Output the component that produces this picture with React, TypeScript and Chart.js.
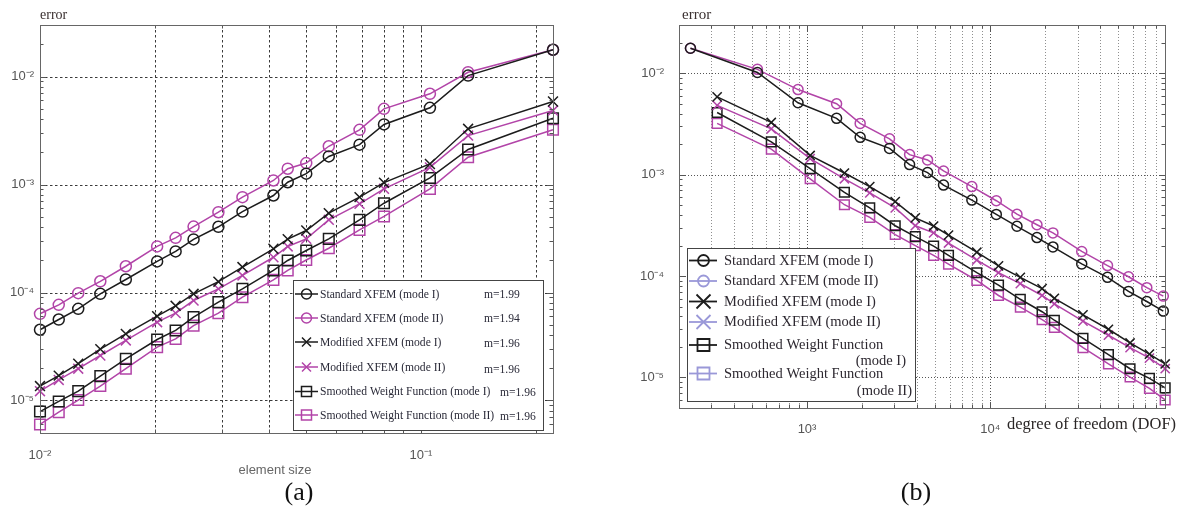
import React, { useEffect, useRef } from 'react';
import { Chart, registerables } from 'chart.js';

Chart.register(...registerables);

// ---------------- data ----------------
const elementSize = [0.01, 0.0112, 0.0126, 0.0144, 0.0168, 0.0203, 0.0227, 0.0253, 0.0294, 0.034, 0.041, 0.0447, 0.05, 0.0573, 0.069, 0.08, 0.1056, 0.133, 0.2222];
const dofStandard = [88100, 71600, 56900, 43700, 31600, 22000, 18000, 14000, 10800, 7940, 5560, 4550, 3630, 2820, 1950, 1450, 893, 536, 231];
const dofModified = [90200, 74000, 58000, 44200, 32100, 22400, 19200, 14600, 11100, 8450, 5920, 4910, 3900, 3030, 2200, 1600, 1040, 638, 323];

const errStdI = [4.52e-5, 5.62e-5, 7.06e-5, 9.72e-5, 1.32e-4, 1.94e-4, 2.40e-4, 3.10e-4, 4.06e-4, 5.62e-4, 7.91e-4, 1.05e-3, 1.26e-3, 1.82e-3, 2.34e-3, 3.60e-3, 5.13e-3, 0.0102, 0.0177];
const errStdII = [6.35e-5, 7.69e-5, 9.86e-5, 1.27e-4, 1.75e-4, 2.67e-4, 3.21e-4, 4.08e-4, 5.54e-4, 7.64e-4, 1.09e-3, 1.40e-3, 1.58e-3, 2.26e-3, 3.21e-3, 5.02e-3, 6.92e-3, 0.01096, 0.0177];
const errModI = [1.36e-5, 1.70e-5, 2.19e-5, 2.99e-5, 4.14e-5, 6.04e-5, 7.53e-5, 9.72e-5, 1.26e-4, 1.72e-4, 2.54e-4, 3.12e-4, 3.75e-4, 5.43e-4, 7.64e-4, 1.04e-3, 1.55e-3, 3.28e-3, 5.87e-3];
const errModII = [1.22e-5, 1.55e-5, 1.97e-5, 2.61e-5, 3.60e-5, 5.31e-5, 6.44e-5, 8.43e-5, 1.08e-4, 1.44e-4, 2.12e-4, 2.67e-4, 3.14e-4, 4.71e-4, 6.62e-4, 9.12e-4, 1.44e-3, 2.84e-3, 4.84e-3];
const errSwfI = [7.9e-6, 9.8e-6, 1.22e-5, 1.68e-5, 2.43e-5, 3.67e-5, 4.45e-5, 5.91e-5, 8.14e-5, 1.08e-4, 1.60e-4, 1.98e-4, 2.45e-4, 3.14e-4, 4.71e-4, 6.71e-4, 1.15e-3, 2.11e-3, 4.11e-3];
const errSwfII = [6.0e-6, 7.8e-6, 1.01e-5, 1.36e-5, 1.97e-5, 3.12e-5, 3.72e-5, 4.94e-5, 6.44e-5, 9.05e-5, 1.31e-4, 1.60e-4, 2.00e-4, 2.57e-4, 3.80e-4, 5.06e-4, 9.12e-4, 1.79e-3, 3.21e-3];

const seriesNames = [
  'Standard XFEM (mode I)',
  'Standard XFEM (mode II)',
  'Modified XFEM (mode I)',
  'Modified XFEM (mode II)',
  'Smoothed Weight Function (mode I)',
  'Smoothed Weight Function (mode II)',
];
const slopes = ['m=1.99', 'm=1.94', 'm=1.96', 'm=1.96', 'm=1.96', 'm=1.96'];
const rightLegendLines = [
  ['Standard XFEM (mode I)'],
  ['Standard XFEM (mode II)'],
  ['Modified XFEM (mode I)'],
  ['Modified XFEM (mode II)'],
  ['Smoothed Weight Function', '(mode I)'],
  ['Smoothed Weight Function', '(mode II)'],
];

const leftXTicks = [0.01, 0.1];
const rightXTicks = [1000, 10000];
const yTicks = [1e-5, 1e-4, 1e-3, 1e-2];

const errorLabel = 'error';
const leftXLabel = 'element size';
const rightXLabel = 'degree of freedom (DOF)';
const captions = ['(a)', '(b)'];

// ---------------- styles ----------------
const BLACK = '#1c1c1c';
const MAGENTA = '#b244a8';
const LAVENDER = '#9a98d8';
const seriesErrors = [errStdI, errStdII, errModI, errModII, errSwfI, errSwfII];
const seriesColors = [BLACK, MAGENTA, BLACK, MAGENTA, BLACK, MAGENTA];
const seriesMarkers = ['circle', 'circle', 'crossRot', 'crossRot', 'rect', 'rect'];

const SUP: Record<string, string> = { '-': '⁻', '0': '⁰', '1': '¹', '2': '²', '3': '³', '4': '⁴', '5': '⁵', '6': '⁶', '7': '⁷', '8': '⁸', '9': '⁹' };
const decadeLabel = (v: number) =>
  '10' + String(Math.round(Math.log10(v))).split('').map((c) => SUP[c] || c).join('');

function logSteps(min: number, max: number) {
  const out: { v: number; major: boolean }[] = [];
  const e0 = Math.floor(Math.log10(min));
  const e1 = Math.ceil(Math.log10(max));
  for (let e = e0; e <= e1; e++) {
    for (let k = 1; k <= 9; k++) {
      const v = k * Math.pow(10, e);
      if (v > min * 1.0005 && v < max * 0.9995) out.push({ v, major: k === 1 });
    }
  }
  return out;
}

function drawMarker(ctx: CanvasRenderingContext2D, style: string, x: number, y: number, r: number, color: string, lw: number) {
  ctx.save();
  ctx.strokeStyle = color;
  ctx.lineWidth = lw;
  ctx.beginPath();
  if (style === 'circle') ctx.arc(x, y, r, 0, Math.PI * 2);
  else if (style === 'rect') ctx.rect(x - r, y - r, 2 * r, 2 * r);
  else {
    ctx.moveTo(x - r, y - r);
    ctx.lineTo(x + r, y + r);
    ctx.moveTo(x + r, y - r);
    ctx.lineTo(x - r, y + r);
  }
  ctx.stroke();
  ctx.restore();
}

type TextItem = { text: string; x: number; y: number; font: string; color: string; align: CanvasTextAlign };

type PanelCfg = {
  id: string;
  gridColor: string;
  gridDash: number[];
  majorGridColor: string;
  frameColor: string;
  tickColor: string;
  drawLegend: (ctx: CanvasRenderingContext2D) => void;
  texts: TextItem[];
};

function overlayPlugin(cfg: PanelCfg) {
  return {
    id: cfg.id,
    beforeDatasetsDraw(chart: any) {
      const { ctx, chartArea: a } = chart;
      const xs = chart.scales.x;
      const ys = chart.scales.y;
      ctx.save();
      ctx.lineWidth = 1;
      ctx.setLineDash(cfg.gridDash);
      for (const s of logSteps(xs.min, xs.max)) {
        const px = Math.round(xs.getPixelForValue(s.v)) + 0.5;
        ctx.strokeStyle = s.major ? cfg.majorGridColor : cfg.gridColor;
        ctx.beginPath();
        ctx.moveTo(px, a.top);
        ctx.lineTo(px, a.bottom);
        ctx.stroke();
      }
      for (const s of logSteps(ys.min, ys.max)) {
        if (!s.major) continue;
        const py = Math.round(ys.getPixelForValue(s.v)) + 0.5;
        ctx.strokeStyle = cfg.majorGridColor;
        ctx.beginPath();
        ctx.moveTo(a.left, py);
        ctx.lineTo(a.right, py);
        ctx.stroke();
      }
      ctx.restore();
    },
    afterDatasetsDraw(chart: any) {
      const { ctx, chartArea: a } = chart;
      const xs = chart.scales.x;
      const ys = chart.scales.y;
      ctx.save();
      ctx.setLineDash([]);
      ctx.lineWidth = 1;
      ctx.strokeStyle = cfg.tickColor;
      for (const s of logSteps(xs.min, xs.max)) {
        const px = Math.round(xs.getPixelForValue(s.v)) + 0.5;
        const L = s.major ? 6 : 3.5;
        ctx.beginPath();
        ctx.moveTo(px, a.bottom);
        ctx.lineTo(px, a.bottom - L);
        ctx.moveTo(px, a.top);
        ctx.lineTo(px, a.top + L);
        ctx.stroke();
      }
      for (const s of logSteps(ys.min, ys.max)) {
        const py = Math.round(ys.getPixelForValue(s.v)) + 0.5;
        const L = s.major ? 6 : 3.5;
        ctx.beginPath();
        ctx.moveTo(a.left, py);
        ctx.lineTo(a.left + L, py);
        ctx.moveTo(a.right, py);
        ctx.lineTo(a.right - L, py);
        ctx.stroke();
      }
      ctx.strokeStyle = cfg.frameColor;
      ctx.strokeRect(Math.round(a.left) + 0.5, Math.round(a.top) + 0.5, Math.round(a.right - a.left), Math.round(a.bottom - a.top));
      cfg.drawLegend(ctx);
      for (const t of cfg.texts) {
        ctx.font = t.font;
        ctx.fillStyle = t.color;
        ctx.textAlign = t.align;
        ctx.textBaseline = 'alphabetic';
        ctx.fillText(t.text, t.x, t.y);
      }
      ctx.restore();
    },
  };
}

function makeDatasets(xFor: (i: number) => number[], radii: Record<string, number>) {
  return seriesNames.map((name, i) => {
    const xv = xFor(i);
    return {
      label: name,
      data: xv.map((x, j) => ({ x, y: seriesErrors[i][j] })),
      borderColor: seriesColors[i],
      backgroundColor: 'rgba(0,0,0,0)',
      pointBackgroundColor: 'rgba(0,0,0,0)',
      pointBorderColor: seriesColors[i],
      pointStyle: seriesMarkers[i],
      pointRadius: radii[seriesMarkers[i]],
      pointBorderWidth: 1.5,
      borderWidth: 1.5,
      fill: false,
      tension: 0,
      clip: false as any,
    };
  });
}

function scaleOptions(min: number, max: number, ticks: number[], fit: (s: any) => void, padding: number, fontSize: number) {
  return {
    type: 'logarithmic' as const,
    min,
    max,
    grid: { display: false },
    border: { display: false },
    afterBuildTicks: (s: any) => {
      s.ticks = ticks.map((v) => ({ value: v }));
    },
    afterFit: fit,
    ticks: {
      autoSkip: false,
      maxRotation: 0,
      padding,
      color: '#555',
      font: { family: '"Liberation Sans", Arial, sans-serif', size: fontSize },
      callback: (v: any) => decadeLabel(Number(v)),
    },
  };
}

function leftConfig(): any {
  const legend = (ctx: CanvasRenderingContext2D) => {
    ctx.save();
    ctx.fillStyle = '#fff';
    ctx.fillRect(293, 280, 250, 150);
    ctx.strokeStyle = '#444';
    ctx.lineWidth = 1;
    ctx.strokeRect(293.5, 280.5, 250, 150);
    const rowsY = [293.5, 317.5, 341.5, 366.5, 391, 414.5];
    const mX = [484, 484, 484, 484, 500, 500];
    const mDy = [0, 0, 1.5, 2, 1, 1];
    const radii: Record<string, number> = { circle: 5, crossRot: 4.5, rect: 5 };
    seriesNames.forEach((name, i) => {
      const y = rowsY[i];
      ctx.strokeStyle = seriesColors[i];
      ctx.lineWidth = 1.5;
      ctx.beginPath();
      ctx.moveTo(295, y + 0.5);
      ctx.lineTo(318, y + 0.5);
      ctx.stroke();
      drawMarker(ctx, seriesMarkers[i], 306.5, y + 0.5, radii[seriesMarkers[i]], seriesColors[i], 1.5);
      ctx.fillStyle = '#2a2a38';
      ctx.font = '11.6px "Liberation Serif", "Times New Roman", serif';
      ctx.textAlign = 'left';
      ctx.textBaseline = 'middle';
      ctx.fillText(name, 320, y + 1);
      ctx.fillText(slopes[i], mX[i], y + 1 + mDy[i]);
    });
    ctx.restore();
  };
  return {
    type: 'line',
    data: { datasets: makeDatasets(() => elementSize, { circle: 5.5, crossRot: 7, rect: 7.5 }) },
    options: {
      animation: false,
      responsive: false,
      maintainAspectRatio: false,
      layout: { padding: { left: 0, right: 41, top: 25, bottom: 0 } },
      plugins: { legend: { display: false }, tooltip: { enabled: false } },
      scales: {
        x: scaleOptions(0.01, 0.2222, leftXTicks, (s: any) => { s.height = 80; }, 7, 13),
        y: scaleOptions(5e-6, 0.03, yTicks, (s: any) => { s.width = 40; }, -2, 13),
      },
    },
    plugins: [
      overlayPlugin({
        id: 'leftOverlay',
        gridColor: '#3a3a3a',
        gridDash: [2.5, 2.5],
        majorGridColor: '#3a3a3a',
        frameColor: '#666',
        tickColor: '#555',
        drawLegend: legend,
        texts: [
          { text: errorLabel, x: 40, y: 18.5, font: '14px "Liberation Serif", serif', color: '#3a3030', align: 'left' },
          { text: leftXLabel, x: 275, y: 474, font: '13px "Liberation Sans", Arial, sans-serif', color: '#666', align: 'center' },
          { text: captions[0], x: 299, y: 500, font: '26px "Liberation Serif", serif', color: '#111', align: 'center' },
        ],
      }),
    ],
  };
}

function rightConfig(): any {
  const legend = (ctx: CanvasRenderingContext2D) => {
    const ox = -594;
    ctx.save();
    ctx.translate(ox, 0);
    ctx.fillStyle = '#fff';
    ctx.fillRect(687, 248, 228, 153);
    ctx.strokeStyle = '#444';
    ctx.lineWidth = 1;
    ctx.strokeRect(687.5, 248.5, 228, 153);
    const rowsY = [260, 280.5, 301, 321.5, 344.5, 373];
    const line2Y = [0, 0, 0, 0, 361, 391];
    const line2X = [0, 0, 0, 0, 906, 912];
    const radii: Record<string, number> = { circle: 5.5, crossRot: 7, rect: 6 };
    const legendColors = [BLACK, LAVENDER, BLACK, LAVENDER, BLACK, LAVENDER];
    rightLegendLines.forEach((lines, i) => {
      const y = rowsY[i];
      ctx.strokeStyle = legendColors[i];
      ctx.lineWidth = 1.8;
      ctx.beginPath();
      ctx.moveTo(689, y + 0.5);
      ctx.lineTo(717, y + 0.5);
      ctx.stroke();
      drawMarker(ctx, seriesMarkers[i], 703.5, y + 0.5, radii[seriesMarkers[i]], legendColors[i], 1.8);
      ctx.fillStyle = '#2d2830';
      ctx.font = '14.5px "Liberation Serif", "Times New Roman", serif';
      ctx.textBaseline = 'middle';
      ctx.textAlign = 'left';
      ctx.fillText(lines[0], 724, y + 1);
      if (lines[1]) {
        ctx.textAlign = 'right';
        ctx.fillText(lines[1], line2X[i], line2Y[i]);
      }
    });
    ctx.restore();
  };
  return {
    type: 'line',
    data: {
      datasets: makeDatasets((i) => (i < 2 ? dofStandard : dofModified), { circle: 5, crossRot: 6.5, rect: 6.8 }),
    },
    options: {
      animation: false,
      responsive: false,
      maintainAspectRatio: false,
      layout: { padding: { left: 0, right: 23, top: 25, bottom: 0 } },
      plugins: { legend: { display: false }, tooltip: { enabled: false } },
      scales: {
        x: scaleOptions(200, 90000, rightXTicks, (s: any) => { s.height = 105; }, 6, 13),
        y: scaleOptions(5e-6, 0.03, yTicks, (s: any) => { s.width = 85; }, 7, 13),
      },
    },
    plugins: [
      overlayPlugin({
        id: 'rightOverlay',
        gridColor: '#8f8f8f',
        gridDash: [1, 2],
        majorGridColor: '#555',
        frameColor: '#666',
        tickColor: '#555',
        drawLegend: legend,
        texts: [
          { text: errorLabel, x: 88, y: 18.5, font: '15px "Liberation Serif", serif', color: '#3a3030', align: 'left' },
          { text: rightXLabel, x: 413, y: 429, font: '16.5px "Liberation Serif", serif', color: '#2a2626', align: 'left' },
          { text: captions[1], x: 322, y: 500, font: '26px "Liberation Serif", serif', color: '#111', align: 'center' },
        ],
      }),
    ],
  };
}

export default function App() {
  const leftRef = useRef<HTMLCanvasElement>(null);
  const rightRef = useRef<HTMLCanvasElement>(null);
  useEffect(() => {
    const c1 = new Chart(leftRef.current as HTMLCanvasElement, leftConfig());
    const c2 = new Chart(rightRef.current as HTMLCanvasElement, rightConfig());
    return () => {
      c1.destroy();
      c2.destroy();
    };
  }, []);
  return (
    <div style={{ position: 'fixed', left: 0, top: 0, width: 1188, height: 513, background: '#fff' }}>
      <canvas ref={leftRef} width={594} height={513} style={{ position: 'absolute', left: 0, top: 0 }} />
      <canvas ref={rightRef} width={594} height={513} style={{ position: 'absolute', left: 594, top: 0 }} />
    </div>
  );
}
